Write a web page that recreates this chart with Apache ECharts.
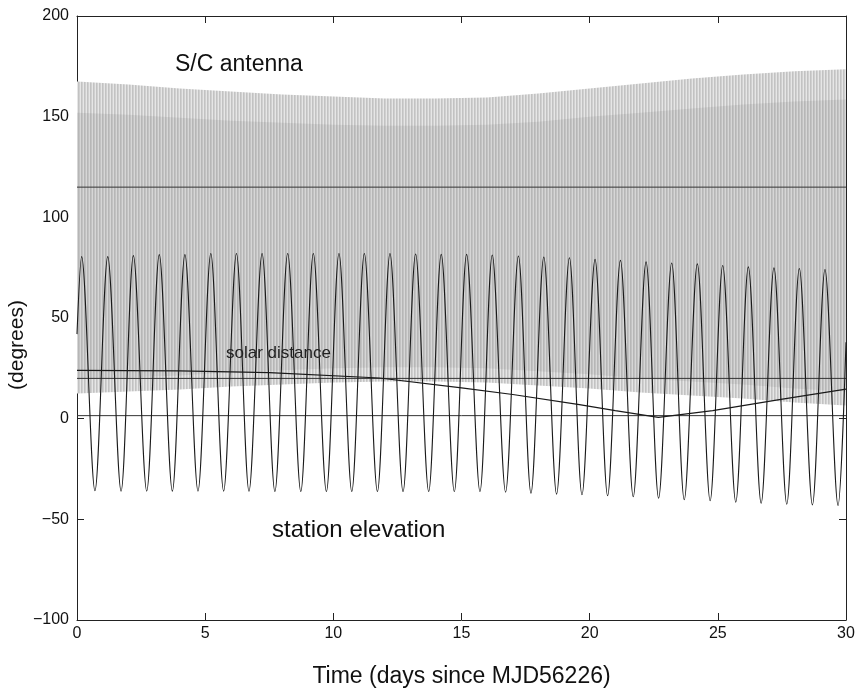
<!DOCTYPE html>
<html><head><meta charset="utf-8">
<script src="https://cdn.jsdelivr.net/npm/echarts@6/dist/echarts.min.js"></script>
<style>html,body{margin:0;padding:0;background:#fff}#c{width:858px;height:695px}</style>
</head><body><div id="c"></div>
<script>
// ---- data ----
const xTicks = [0, 5, 10, 15, 20, 25, 30];
const yTicks = [-100, -50, 0, 50, 100, 150, 200];

// S/C antenna: outer envelope of the dense oscillation (degrees)
const envDays      = [0, 2, 4, 6, 8, 10, 12, 14, 16, 18, 20, 22, 24, 26, 28, 30];
const antennaUpper = [167.5, 166, 164, 162.5, 161, 160, 159, 159, 159.5, 161.5, 164, 166.5, 169, 171, 172.5, 173.5];
const antennaLower = [12.5, 13.5, 14.5, 16, 17, 18, 18.5, 18.5, 18, 16.5, 15, 13, 11.5, 10, 8, 6.5];
// S/C antenna: denser core reached by most cycles
const coreUpper    = [152, 151, 149.5, 148, 147, 146, 145.5, 145.5, 146, 147.5, 150, 152, 154, 156, 157.5, 158.5];
const coreLower    = [20, 20.5, 21.5, 23, 24, 25, 25.5, 25.5, 25, 23.5, 22, 20, 18.5, 17, 15, 13.5];

// station elevation: daily maxima and minima
const peakDays   = [0.18, 1.20, 2.20, 3.21, 4.21, 5.22, 6.22, 7.22, 8.22, 9.22, 10.22, 11.21, 12.21, 13.21, 14.21,
                    15.20, 16.20, 17.22, 18.21, 19.21, 20.21, 21.20, 22.20, 23.20, 24.20, 25.19, 26.19, 27.19, 28.18, 29.18];
const peakValues = [80.5, 80.5, 81, 81.5, 81.5, 82, 82, 82, 82, 82, 82, 82, 82, 81.8, 81.6,
                    81.6, 81.3, 80.8, 80.3, 79.9, 79.1, 78.6, 77.9, 77.3, 76.9, 76.1, 75.4, 74.9, 74.6, 74.1];
const troughDays   = [0.70, 1.72, 2.72, 3.72, 4.72, 5.72, 6.71, 7.72, 8.73, 9.73, 10.72, 11.72, 12.72, 13.72, 14.72,
                      15.72, 16.72, 17.71, 18.71, 19.70, 20.70, 21.70, 22.69, 23.69, 24.70, 25.70, 26.69, 27.69, 28.69, 29.69];
const troughValues = [-35.8, -36, -36, -36, -36, -36, -36, -36.2, -36.2, -36.2, -36.2, -36.2, -36.2, -36.2, -36.2,
                      -36.2, -36.5, -37.0, -37.5, -37.8, -38.3, -38.8, -39.5, -40.3, -40.8, -41.5, -42.0, -42.5, -42.8, -43.1];
const elevStart = [0, 42];
const elevEnd   = [30, 38];

// solar distance
const solarDays   = [0, 4, 7.5, 11.8, 15, 17, 19.6, 21, 22.68, 24.8, 27.4, 30];
const solarValues = [24, 23.7, 22.9, 20.2, 15.3, 12, 7, 4, 0.6, 4, 9.5, 14.7];

// horizontal reference levels
const refLevels = [115, 20, 1.5];

// ---- build ----
const bandData = envDays.map((d, i) => [d, antennaLower[i], antennaUpper[i]]);
const coreData = envDays.map((d, i) => [d, coreLower[i], coreUpper[i]]);
const elevData = [elevStart];
for (let i = 0; i < peakDays.length; i++) {
  elevData.push([peakDays[i], peakValues[i]]);
  elevData.push([troughDays[i], troughValues[i]]);
}
elevData.push(elevEnd);
const solarData = solarDays.map((d, i) => [d, solarValues[i]]);

function stripes(cols) {
  const c = document.createElement('canvas');
  c.width = cols.length; c.height = 4;
  const g = c.getContext('2d');
  cols.forEach((col, i) => { g.fillStyle = col; g.fillRect(i, 0, 1, 4); });
  return c;
}
const outerPattern = stripes(['#c2c2c2', '#d0d0d0', '#e6e6e6']);
const corePattern  = stripes(['#b6b6b6', '#c2c2c2', '#d6d6d6']);

function bandSeries(name, data, lowArr, upArr, pattern, z) {
  return {type: 'custom', name, data, encode: {x: 0, y: [1, 2]}, z, silent: true, clip: true,
    renderItem: (params, api) => {
      if (params.dataIndex !== 0) return null;
      const pts = [];
      for (let i = 0; i < envDays.length; i++) pts.push(api.coord([envDays[i], upArr[i]]));
      for (let i = envDays.length - 1; i >= 0; i--) pts.push(api.coord([envDays[i], lowArr[i]]));
      return {type: 'polygon', shape: {points: pts}, style: {fill: {image: pattern, repeat: 'repeat'}, stroke: null}};
    }};
}

const FONT = 'Liberation Sans, Arial, Helvetica, sans-serif';
const minus = v => String(v).replace('-', '\u2212');

const chart = echarts.init(document.getElementById('c'), null, {renderer: 'canvas'});
const axisLineStyle = {color: '#222', width: 1};
const refSeries = refLevels.map(v => ({
  type: 'line', data: [[xTicks[0], v], [xTicks[xTicks.length - 1], v]],
  symbol: 'none', lineStyle: {color: '#333', width: 1}, z: 4, silent: true
}));
chart.setOption({
  animation: false,
  backgroundColor: '#fff',
  grid: {left: 77, right: 12, top: 16, bottom: 75, containLabel: false, outerBoundsMode: 'none'},
  xAxis: [
    {type: 'value', min: 0, max: 30, interval: 5, position: 'bottom',
     axisLine: {onZero: false, lineStyle: axisLineStyle}, axisTick: {inside: true, length: 7, lineStyle: axisLineStyle},
     splitLine: {show: false},
     axisLabel: {color: '#111', fontSize: 16, fontFamily: FONT, margin: 6},
     name: 'Time (days since MJD56226)', nameLocation: 'middle', nameGap: 45,
     nameTextStyle: {color: '#111', fontSize: 23, fontFamily: FONT}},
    {type: 'value', min: 0, max: 30, interval: 5, position: 'top',
     axisLine: {onZero: false, lineStyle: axisLineStyle}, axisTick: {inside: true, length: 7, lineStyle: axisLineStyle},
     axisLabel: {show: false}, splitLine: {show: false}}
  ],
  yAxis: [
    {type: 'value', min: -100, max: 200, interval: 50, position: 'left',
     axisLine: {show: true, onZero: false, lineStyle: axisLineStyle}, axisTick: {show: true, inside: true, length: 7, lineStyle: axisLineStyle},
     splitLine: {show: false},
     axisLabel: {color: '#111', fontSize: 16, fontFamily: FONT, margin: 8, formatter: minus}},
    {type: 'value', min: -100, max: 200, interval: 50, position: 'right',
     axisLine: {show: true, onZero: false, lineStyle: axisLineStyle}, axisTick: {show: true, inside: true, length: 7, lineStyle: axisLineStyle},
     axisLabel: {show: false}, splitLine: {show: false}}
  ],
  series: [
    bandSeries('S/C antenna', bandData, antennaLower, antennaUpper, outerPattern, 1),
    bandSeries('S/C antenna core', coreData, coreLower, coreUpper, corePattern, 2),
    ...refSeries,
    {type: 'line', name: 'solar distance', data: solarData, symbol: 'none',
     lineStyle: {color: '#1a1a1a', width: 1.2}, z: 5, silent: true},
    {type: 'line', name: 'station elevation', data: elevData, symbol: 'none', smooth: 0.33,
     lineStyle: {color: '#1a1a1a', width: 1.1}, z: 6, silent: true}
  ],
  graphic: [
    {type: 'text', x: 17, y: 345, rotation: Math.PI / 2,
     style: {text: '(degrees)', fontSize: 21, fontFamily: FONT, fill: '#111', align: 'center', verticalAlign: 'middle'}, z: 10},
    {type: 'text', x: 175, y: 65, style: {text: 'S/C antenna', fontSize: 23, fontFamily: FONT, fill: '#111', verticalAlign: 'middle'}, z: 10},
    {type: 'text', x: 272, y: 530, style: {text: 'station elevation', fontSize: 24, fontFamily: FONT, fill: '#111', verticalAlign: 'middle'}, z: 10},
    {type: 'text', x: 226, y: 353, style: {text: 'solar distance', fontSize: 17, fontFamily: FONT, fill: '#222', verticalAlign: 'middle'}, z: 10}
  ]
});
</script>
</body></html>
